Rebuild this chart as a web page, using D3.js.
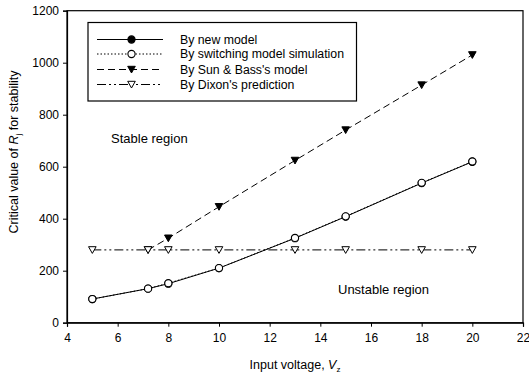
<!DOCTYPE html>
<html><head><meta charset="utf-8">
<script src="https://cdn.jsdelivr.net/npm/d3@7"></script>
<style>body{margin:0;background:#fff}svg{display:block}text{font-family:Arial,"Liberation Sans",sans-serif;fill:#000}</style>
</head><body><svg id="c" width="529" height="380"></svg>
<script>
const xTicks = [4,6,8,10,12,14,16,18,20,22];
const yTicks = [0,200,400,600,800,1000,1200];
const newModelX = [5,7.2,8,10,13,15,18,20];
const newModelY = [91,131,150,210,325,408,537,619];
const switchX = [5,7.2,8,10,13,15,18,20];
const switchY = [91,131,152,210,326,409,538,620];
const sunBassX = [7.2,8,10,13,15,18,20];
const sunBassY = [280,325,446,624,741,914,1030];
const dixonX = [5,7.2,8,10,13,15,18,20];
const dixonY = [280,280,280,280,280,280,280,280];
const legendLabels = ["By new model","By switching model simulation","By Sun & Bass's model","By Dixon's prediction"];

const svg = d3.select("#c");
const x = d3.scaleLinear().domain([4,22]).range([67,523]);
const y = d3.scaleLinear().domain([0,1200]).range([322.7,10.7]);

svg.append("rect").attr("x",x(4)).attr("y",y(1200)).attr("width",x(22)-x(4)).attr("height",y(0)-y(1200))
  .attr("fill","none").attr("stroke","#000").attr("stroke-width",1.2);

const xa = svg.append("g").attr("transform",`translate(0,${y(0)})`)
  .call(d3.axisBottom(x).tickValues(xTicks).tickSize(4).tickPadding(7).tickFormat(d3.format("d")));
const ya = svg.append("g").attr("transform",`translate(${x(4)},0)`)
  .call(d3.axisLeft(y).tickValues(yTicks).tickSize(4).tickPadding(4).tickFormat(d3.format("d")));
[xa,ya].forEach(a=>{a.select(".domain").attr("stroke","#000").attr("stroke-width",1.2);
  a.selectAll("line").attr("stroke","#000");
  a.selectAll("text").attr("font-size",12).attr("font-family","Arial,'Liberation Sans',sans-serif");});

function pts(xs,ys){return xs.map((v,i)=>[v,ys[i]]);}
const line = d3.line().x(d=>x(d[0])).y(d=>y(d[1]));

const series = [
  {xs:newModelX, ys:newModelY, dash:null, marker:"circle", fill:"#000"},
  {xs:sunBassX, ys:sunBassY, dash:"7,4", marker:"tri", fill:"#000"},
  {xs:dixonX, ys:dixonY, dash:"9,3,2,3,2,3", marker:"tri", fill:"#fff"},
  {xs:switchX, ys:switchY, dash:"1.5,2", marker:"circle", fill:"#fff"}
];
const triPath = "M-3.8,-3.2L3.8,-3.2L0,3.5Z";
function drawMarker(g,m,fill,cx,cy){
  if(m==="circle") g.append("circle").attr("cx",cx).attr("cy",cy).attr("r",3.6).attr("fill",fill).attr("stroke","#000").attr("stroke-width",1.1);
  else g.append("path").attr("d",triPath).attr("transform",`translate(${cx},${cy})`).attr("fill",fill).attr("stroke","#000").attr("stroke-width",1);
}
series.forEach(s=>{
  svg.append("path").datum(pts(s.xs,s.ys)).attr("d",line).attr("fill","none").attr("stroke","#000").attr("stroke-width",1)
    .attr("stroke-dasharray",s.dash);
});
series.forEach(s=>{
  const g = svg.append("g");
  pts(s.xs,s.ys).forEach(d=>drawMarker(g,s.marker,s.fill,x(d[0]),y(d[1])));
});

const lg = svg.append("g");
lg.append("rect").attr("x",88).attr("y",22.5).attr("width",268.5).attr("height",78.5).attr("fill","#fff").attr("stroke","#000").attr("stroke-width",1.2);
const legOrder = [
  {dash:null, marker:"circle", fill:"#000"},
  {dash:"1.5,2", marker:"circle", fill:"#fff"},
  {dash:"7,4", marker:"tri", fill:"#000"},
  {dash:"9,3,2,3,2,3", marker:"tri", fill:"#fff"}
];
const rowY = [39.5,54,69.5,84.5];
legOrder.forEach((s,i)=>{
  lg.append("line").attr("x1",97).attr("x2",163).attr("y1",rowY[i]).attr("y2",rowY[i]).attr("stroke","#000").attr("stroke-width",1).attr("stroke-dasharray",s.dash);
  drawMarker(lg,s.marker,s.fill,131.5,rowY[i]);
  lg.append("text").attr("x",180).attr("y",rowY[i]+4).attr("font-size",12.3).text(legendLabels[i]);
});

svg.append("text").attr("x",111).attr("y",142.5).attr("font-size",13).text("Stable region");
svg.append("text").attr("x",338).attr("y",293.5).attr("font-size",13).text("Unstable region");

const xt = svg.append("text").attr("x",295).attr("y",369).attr("text-anchor","middle").attr("font-size",12.5);
xt.append("tspan").text("Input voltage, ");
xt.append("tspan").attr("font-style","italic").text("V");
xt.append("tspan").attr("font-size",8).attr("dy",3).text("z");

const yt = svg.append("text").attr("transform","translate(18,152) rotate(-90)").attr("text-anchor","middle").attr("font-size",12.5);
yt.append("tspan").text("Critical value of ");
yt.append("tspan").attr("font-style","italic").text("R");
yt.append("tspan").attr("font-size",8).attr("dy",3).text("j");
yt.append("tspan").attr("dy",-3).text(" for stability");
</script></body></html>
